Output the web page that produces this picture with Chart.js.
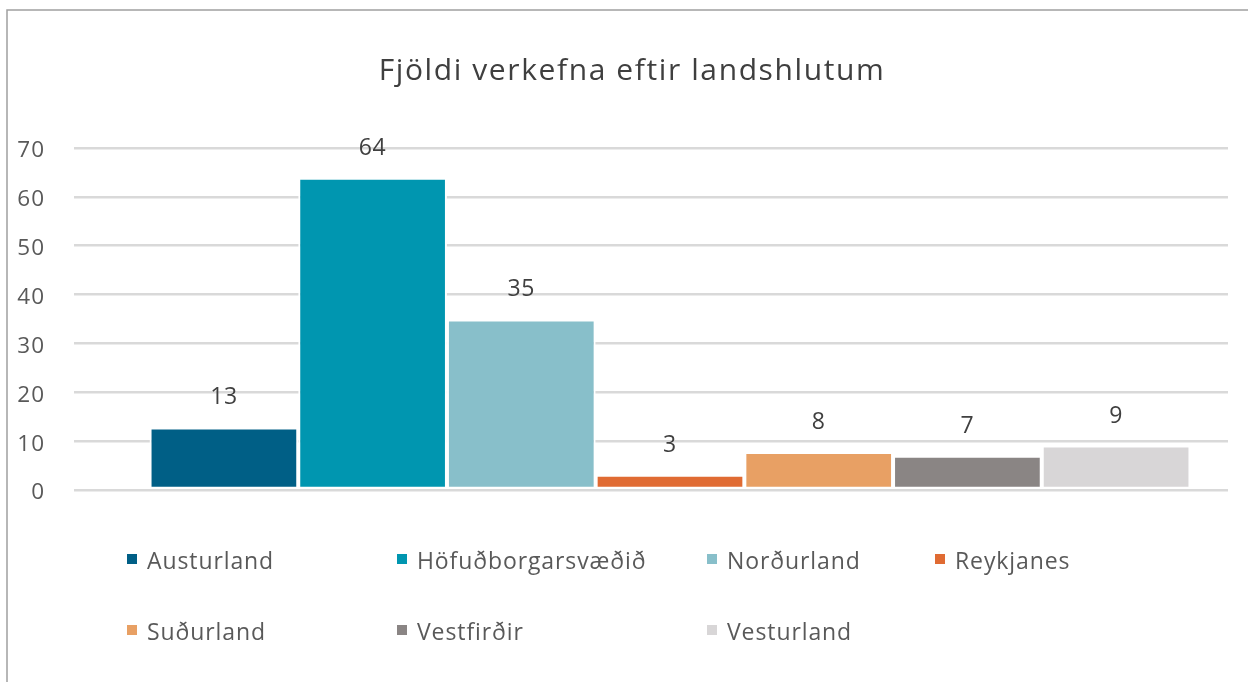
<!DOCTYPE html>
<html>
<head>
<meta charset="utf-8">
<script src="https://cdn.jsdelivr.net/npm/chart.js@4.4.1/dist/chart.umd.min.js"></script>
<style>
html,body{margin:0;padding:0;background:#fff;}
#c{display:block;}
</style>
</head>
<body>
<canvas id="c" width="1248" height="682"></canvas>
<script>
const chartTitle = 'Fjöldi verkefna eftir landshlutum';
const categories = ['Austurland', 'Höfuðborgarsvæðið', 'Norðurland', 'Reykjanes', 'Suðurland', 'Vestfirðir', 'Vesturland'];
const values = [12.8, 63.9, 34.9, 3.1, 7.8, 7.0, 9.1];
const colors = ['#005F86', '#0096B0', '#88BFCA', '#E06B33', '#E8A064', '#8A8584', '#D8D6D7'];
const yTicks = [0, 10, 20, 30, 40, 50, 60, 70];

const FONT = "'Open Sans', 'Noto Sans', sans-serif";
Chart.defaults.font.family = FONT;

const datasets = categories.map((name, i) => ({
  label: name,
  data: [values[i]],
  backgroundColor: colors[i],
  borderColor: '#ffffff',
  borderWidth: 2,
  borderSkipped: false,
  barPercentage: 1.0,
  categoryPercentage: 0.902
}));

const framePlugin = {
  id: 'frame',
  beforeDraw(chart) {
    const ctx = chart.ctx;
    ctx.save();
    ctx.fillStyle = '#ffffff';
    ctx.fillRect(0, 0, chart.width, chart.height);
    ctx.strokeStyle = '#a0a0a0';
    ctx.lineWidth = 1.5;
    ctx.strokeRect(7, 10, 1400, 800);
    ctx.restore();
    ctx.letterSpacing = '1px';
  },
  afterDraw(chart) {
    chart.ctx.letterSpacing = '0px';
  }
};

const titlePlugin = {
  id: 'customTitle',
  afterDraw(chart) {
    const ctx = chart.ctx;
    ctx.save();
    ctx.letterSpacing = '1.6px';
    ctx.font = '30px ' + FONT;
    ctx.fillStyle = '#3f3f3f';
    ctx.textAlign = 'center';
    ctx.textBaseline = 'alphabetic';
    ctx.fillText(chartTitle, 632, 80);
    ctx.restore();
  }
};

const shiftPlugin = {
  id: 'shiftX',
  afterLayout(chart) {
    const xs = chart.scales.x;
    xs.left += 19;
    xs.right += 19;
    xs.configure();
  }
};

const labelPlugin = {
  id: 'valueLabels',
  afterDatasetsDraw(chart) {
    const ctx = chart.ctx;
    ctx.save();
    ctx.letterSpacing = '0.6px';
    ctx.font = '23px ' + FONT;
    ctx.fillStyle = '#404040';
    ctx.textAlign = 'center';
    ctx.textBaseline = 'alphabetic';
    chart.data.datasets.forEach((ds, i) => {
      const el = chart.getDatasetMeta(i).data[0];
      ctx.fillText(String(Math.round(ds.data[0])), el.x, el.y - 23);
    });
    ctx.restore();
  }
};

const legendPlugin = {
  id: 'customLegend',
  afterDraw(chart) {
    const ctx = chart.ctx;
    const cols = [127, 397, 707, 935];
    const rows = [569, 640];
    ctx.save();
    ctx.letterSpacing = '0.9px';
    ctx.font = '23px ' + FONT;
    ctx.textAlign = 'left';
    ctx.textBaseline = 'alphabetic';
    chart.data.datasets.forEach((ds, i) => {
      const cx = cols[i % 4];
      const by = rows[Math.floor(i / 4)];
      ctx.fillStyle = ds.backgroundColor;
      ctx.fillRect(cx, by - 15, 10, 10);
      ctx.fillStyle = '#595959';
      ctx.fillText(ds.label, cx + 20, by);
    });
    ctx.restore();
  }
};

new Chart(document.getElementById('c'), {
  type: 'bar',
  data: { labels: [''], datasets },
  options: {
    responsive: false,
    animation: false,
    devicePixelRatio: 1,
    layout: { padding: { top: 148, left: 0, right: 20, bottom: 192 } },
    plugins: {
      legend: { display: false },
      tooltip: { enabled: false },
      title: { display: false }
    },
    scales: {
      x: { display: false },
      y: {
        min: 0,
        max: 70,
        afterBuildTicks: (s) => { s.ticks = yTicks.map(v => ({ value: v })); },
        afterFit: (s) => { s.width = 74; },
        ticks: { color: '#595959', font: { family: FONT, size: 22.5 }, padding: 29, labelOffset: 3 },
        grid: { color: '#d9d9d9', lineWidth: 2.5, drawTicks: false },
        border: { display: false }
      }
    }
  },
  plugins: [framePlugin, shiftPlugin, labelPlugin, legendPlugin, titlePlugin]
});
</script>
</body>
</html>
